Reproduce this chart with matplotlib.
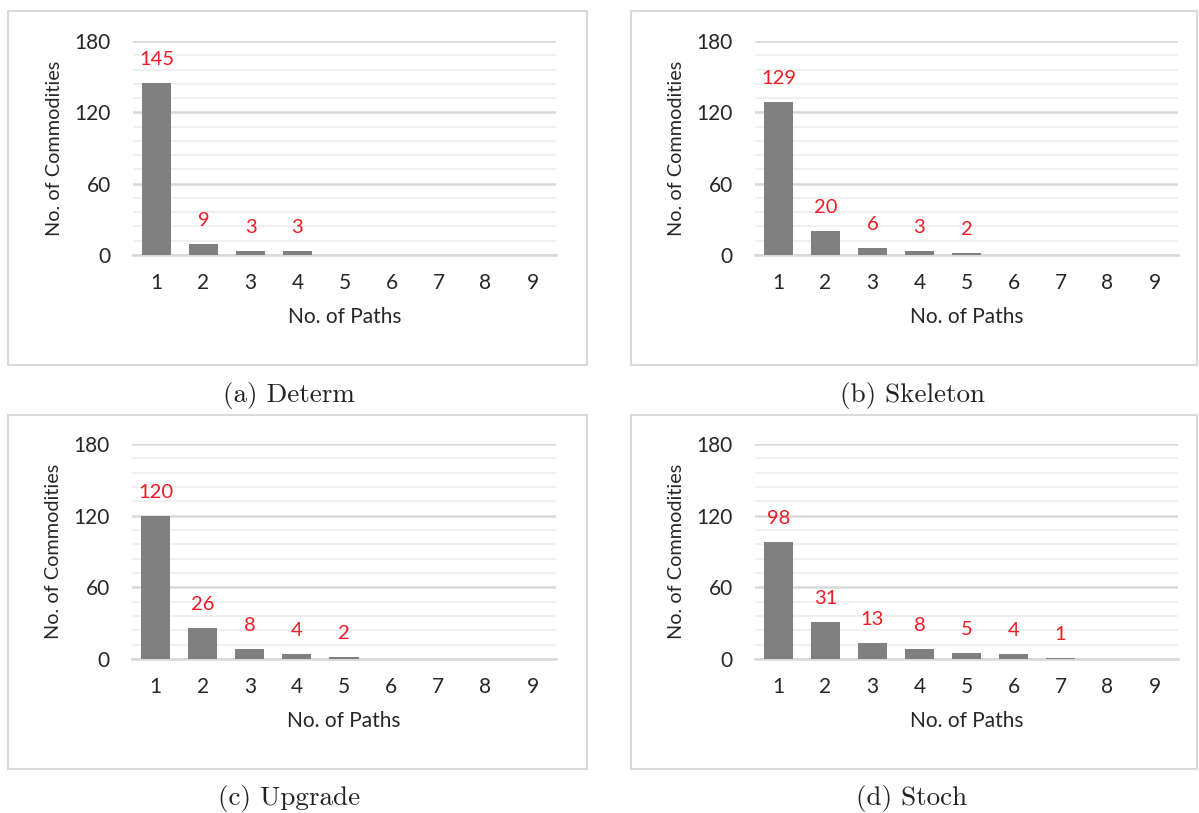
import numpy as np
import matplotlib
matplotlib.use("Agg")
import matplotlib.pyplot as plt
from matplotlib.patches import Rectangle

# number of commodities per number of paths, one list per model
paths = [1, 2, 3, 4, 5, 6, 7, 8, 9]
determ = [145, 9, 3, 3, 0, 0, 0, 0, 0]
skeleton = [129, 20, 6, 3, 2, 0, 0, 0, 0]
upgrade = [120, 26, 8, 4, 2, 0, 0, 0, 0]
stoch = [98, 31, 13, 8, 5, 4, 1, 0, 0]
titles = ["(a) Determ", "(b) Skeleton", "(c) Upgrade", "(d) Stoch"]

W, H = 1199, 813
bar_col = "#808080"
lab_col = "#ee1c25"
grid_major = "#d9d9d9"
grid_minor = "#f0f0f0"
txt_font = ["Lato", "DejaVu Sans"]

fig = plt.figure(figsize=(W / 100, H / 100), dpi=100)

def px(x0, y0, x1, y1):
    # pixel box (top-left origin) -> figure fraction rect
    return [x0 / W, 1 - y1 / H, (x1 - x0) / W, (y1 - y0) / H]

panels = [
    (determ, (133, 41, 556, 255), (8, 11, 587, 365), (289, 395)),
    (skeleton, (755, 41, 1178, 255), (631, 11, 1197, 365), (912, 395)),
    (upgrade, (132, 444, 556, 659), (8, 415, 587, 769), (289, 798)),
    (stoch, (755, 444, 1178, 659), (631, 415, 1197, 769), (912, 798)),
]

for (vals, abox, fbox, tpos), title in zip(panels, titles):
    # light frame around each chart
    fx0, fy0, fx1, fy1 = fbox
    fig.patches.append(Rectangle((fx0 / W, 1 - fy1 / H), (fx1 - fx0) / W, (fy1 - fy0) / H,
                                 transform=fig.transFigure, fill=False,
                                 edgecolor="#d9d9d9", linewidth=1.5))

    ax = fig.add_axes(px(*abox))
    ax.set_xlim(0.5, 9.5)
    ax.set_ylim(0, 180)
    ax.set_yticks(np.arange(0, 181, 60))
    ax.set_yticks(np.arange(0, 181, 12), minor=True)
    ax.grid(axis="y", which="major", color=grid_major, linewidth=1.8)
    ax.grid(axis="y", which="minor", color=grid_minor, linewidth=1.5)
    ax.set_axisbelow(True)
    for s in ["top", "right", "left"]:
        ax.spines[s].set_visible(False)
    ax.spines["bottom"].set_color(grid_major)
    ax.spines["bottom"].set_linewidth(1.9)
    ax.spines["bottom"].set_zorder(0.5)

    ax.bar(paths, vals, width=0.62, color=bar_col, zorder=2)
    for p, v in zip(paths, vals):
        if v > 0:
            ax.annotate(str(v), (p, v), xytext=(0, 13), textcoords="offset points",
                        ha="center", va="baseline", color=lab_col,
                        fontsize=14.5, family=txt_font)

    ax.set_xticks(paths)
    ax.tick_params(axis="both", which="both", length=0, labelsize=15)
    ax.tick_params(axis="x", pad=13)
    ax.tick_params(axis="y", pad=16)
    for lab in ax.get_xticklabels() + ax.get_yticklabels():
        lab.set_family(txt_font)
        lab.set_color("#262626")
    ax.set_xlabel("No. of Paths", fontsize=15, family=txt_font, color="#262626", labelpad=10)
    ax.set_ylabel("No. of Commodities", fontsize=14.3, family=txt_font, color="#262626", labelpad=8)

    fig.text(tpos[0] / W, 1 - tpos[1] / H, title, ha="center", va="center",
             fontsize=19.5, family="cmr10", color="#222222")

fig.savefig("out.png", dpi=100, facecolor="white")
